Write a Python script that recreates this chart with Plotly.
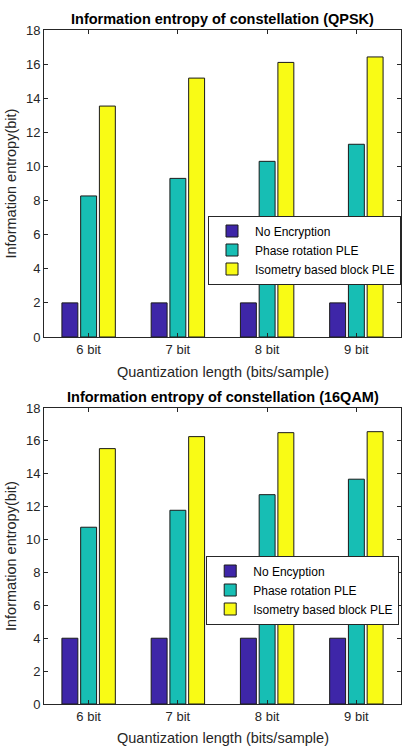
import plotly.graph_objects as go

categories = ["6 bit", "7 bit", "8 bit", "9 bit"]
qpsk_none = [2, 2, 2, 2]
qpsk_phase = [8.27, 9.30, 10.30, 11.30]
qpsk_iso = [13.54, 15.18, 16.10, 16.42]
qam_none = [4, 4, 4, 4]
qam_phase = [10.75, 11.78, 12.73, 13.67]
qam_iso = [15.53, 16.26, 16.50, 16.56]

names_top = ["No Encryption", "Phase rotation PLE", "Isometry based block PLE"]
names_bot = ["No Encyption", "Phase rotation PLE", "Isometry based block PLE"]
colors = ["#3E26A8", "#17BEB4", "#F9FB15"]

W, H = 412, 750
ML, MR, MT, MB = 44, 11, 30, 46
ph = H - MT - MB

def py(p):
    return (H - MB - p) / ph

fig = go.Figure()
for vals, name, c in zip([qpsk_none, qpsk_phase, qpsk_iso], names_top, colors):
    fig.add_trace(go.Bar(x=categories, y=vals, name=name, marker=dict(color=c, line=dict(color="#1a1a1a", width=1)),
                         xaxis="x", yaxis="y", legend="legend"))
for vals, name, c in zip([qam_none, qam_phase, qam_iso], names_bot, colors):
    fig.add_trace(go.Bar(x=categories, y=vals, name=name, marker=dict(color=c, line=dict(color="#1a1a1a", width=1)),
                         xaxis="x2", yaxis="y2", legend="legend2"))

axcommon = dict(showline=True, linecolor="#262626", linewidth=1, mirror="ticks", ticks="inside",
                ticklen=4, tickcolor="#262626", showgrid=False, zeroline=False,
                tickfont=dict(family="Liberation Sans, Arial", size=13, color="#262626"))

fig.update_layout(
    width=W, height=H, margin=dict(l=ML, r=MR, t=MT, b=MB),
    plot_bgcolor="white", paper_bgcolor="white",
    barmode="group", bargap=0.37, bargroupgap=0.15,
    font=dict(family="Liberation Sans, Arial", color="#262626"),
    xaxis=dict(domain=[0, 1], anchor="y", range=[-0.5, 3.5], **axcommon),
    yaxis=dict(domain=[py(337), 1], anchor="x", range=[0, 18], dtick=2, **axcommon),
    xaxis2=dict(domain=[0, 1], anchor="y2", range=[-0.5, 3.5], **axcommon),
    yaxis2=dict(domain=[0, py(408)], anchor="x2", range=[0, 18], dtick=2, **axcommon),
    legend=dict(x=1, xanchor="right", y=py(250), yanchor="middle", bgcolor="white",
                bordercolor="#262626", borderwidth=1, font=dict(size=12, color="#000"),
                tracegroupgap=0, itemwidth=36),
    legend2=dict(x=0.995, xanchor="right", y=py(590), yanchor="middle", bgcolor="white",
                 bordercolor="#262626", borderwidth=1, font=dict(size=12, color="#000"),
                 tracegroupgap=0, itemwidth=36),
    showlegend=True,
)

ann = []
for title, yc in [("Information entropy of constellation (QPSK)", 19),
                  ("Information entropy of constellation (16QAM)", 397)]:
    ann.append(dict(text="<b>" + title + "</b>", x=0.5, xref="paper", y=py(yc), yref="paper",
                    xanchor="center", yanchor="middle", showarrow=False,
                    font=dict(size=14.5, color="#000")))
for yc in [372, 738]:
    ann.append(dict(text="Quantization length (bits/sample)", x=0.5, xref="paper", y=py(yc), yref="paper",
                    xanchor="center", yanchor="middle", showarrow=False,
                    font=dict(size=14.5, color="#262626")))
for yc in [(30 + 337) / 2, (408 + 704) / 2]:
    ann.append(dict(text="Information entropy(bit)", x=(11 - ML) / (W - ML - MR), xref="paper",
                    y=py(yc), yref="paper", xanchor="center", yanchor="middle", textangle=-90,
                    showarrow=False, font=dict(size=14.5, color="#262626")))
fig.update_layout(annotations=ann)

fig.write_html("out.html")
